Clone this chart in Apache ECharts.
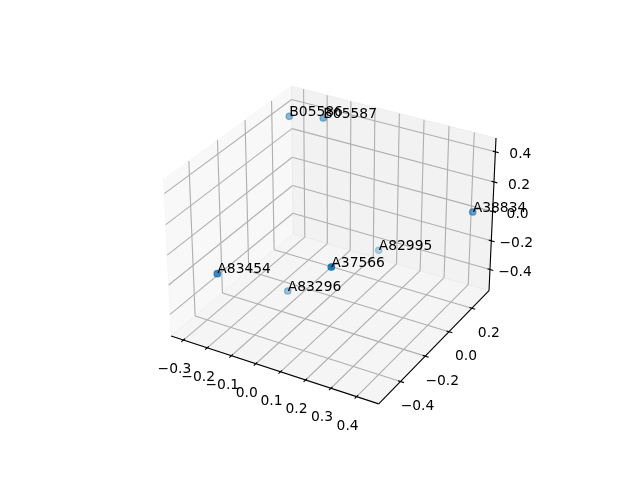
<!DOCTYPE html>
<html><head><meta charset="utf-8"><style>html,body{margin:0;background:#fff}#c{width:640px;height:480px}</style>
<script src="https://cdn.jsdelivr.net/npm/echarts@6/dist/echarts.min.js"></script></head><body><div id="c"></div>
<script>
const labels=['B05586','B05587','A38834','A82995','A37566','A83454','A83296'];
const xVals=[-0.2435,-0.1221,0.4699,0.0725,0.2386,-0.1579,-0.1279];
const yVals=[0.1387,0.1769,0.2070,0.2544,-0.4494,-0.5521,-0.0994];
const zVals=[0.4699,0.4841,0.0983,-0.3896,0.1192,-0.0415,-0.5017];
const xTicks=[-0.3,-0.2,-0.1,0,0.1,0.2,0.3,0.4], yTicks=[-0.4,-0.2,0,0.2], zTicks=[-0.4,-0.2,0,0.2,0.4];
const xLim=[-0.352,0.485], yLim=[-0.57,0.355], zLim=[-0.55,0.49];
const asp=[4,4,3].map(v=>v*1.8294640721620434*25/24/Math.hypot(4,4,3));
const el=30*Math.PI/180, az=-60*Math.PI/180, dist=10;
const R=asp.map(v=>v/2);
const ps=[Math.cos(el)*Math.cos(az),Math.cos(el)*Math.sin(az),Math.sin(el)];
const E=R.map((v,i)=>v+dist*ps[i]);
const nrm=a=>{const l=Math.hypot(...a);return a.map(v=>v/l)};
const cross=(a,b)=>[a[1]*b[2]-a[2]*b[1],a[2]*b[0]-a[0]*b[2],a[0]*b[1]-a[1]*b[0]];
const dot=(a,b)=>a[0]*b[0]+a[1]*b[1]+a[2]*b[2];
const w=nrm(ps),u=nrm(cross([0,0,1],w)),v=cross(w,u);
function toPx(a,b){return [143.2+(a+0.095)/0.185*369.6, 427.2-(b+0.095)/0.185*369.6];}
function viewOf(n){const p=n.map((t,i)=>t*asp[i]);return p.map((t,i)=>t-E[i]);}
function projN(n){const d=viewOf(n);const zv=dot(w,d);return toPx(dot(u,d)/(-zv),dot(v,d)/(-zv));}
const nx=t=>(t-xLim[0])/(xLim[1]-xLim[0]), ny=t=>(t-yLim[0])/(yLim[1]-yLim[0]), nz=t=>(t-zLim[0])/(zLim[1]-zLim[0]);
const seg=(a,b)=>({coords:[projN(a),projN(b)]});
const gridL=[];
xTicks.forEach(t=>{const x=nx(t);gridL.push(seg([x,0,0],[x,1,0]),seg([x,1,0],[x,1,1]));});
yTicks.forEach(t=>{const y=ny(t);gridL.push(seg([1,y,0],[0,y,0]),seg([0,y,0],[0,y,1]));});
zTicks.forEach(t=>{const z=nz(t);gridL.push(seg([0,0,z],[0,1,z]),seg([0,1,z],[1,1,z]));});
const axisL=[seg([0,0,0],[1,0,0]),seg([1,0,0],[1,1,0]),seg([1,1,0],[1,1,1])];
const O=0.016,I=0.012;
xTicks.forEach(t=>{const x=nx(t);axisL.push(seg([x,-O,0],[x,I,0]));});
yTicks.forEach(t=>{const y=ny(t);axisL.push(seg([1+O,y,0],[1-I,y,0]));});
zTicks.forEach(t=>{const z=nz(t);axisL.push(seg([1+O,1,z],[1-I,1,z]));});
const fmt=t=>(t<0?'\u2212':'')+Math.abs(t).toFixed(1);
const tickT=[];
xTicks.forEach(t=>{const q=projN([nx(t),0,0]);tickT.push([q[0]-9,q[1]+29.5,fmt(t)]);});
yTicks.forEach(t=>{const q=projN([1,ny(t),0]);tickT.push([q[0]+17,q[1]+25,fmt(t)]);});
zTicks.forEach(t=>{const q=projN([1,1,nz(t)]);tickT.push([q[0]+25,q[1]+3,fmt(t)]);});
const panes=[
 {c:[[0,0,0],[0,1,0],[0,1,1],[0,0,1]],f:'rgba(242,242,242,0.5)'},
 {c:[[0,1,0],[1,1,0],[1,1,1],[0,1,1]],f:'rgba(230,230,230,0.5)'},
 {c:[[0,0,0],[1,0,0],[1,1,0],[0,1,0]],f:'rgba(236,236,236,0.5)'}];
const nPts=labels.map((_,i)=>[nx(xVals[i]),ny(yVals[i]),nz(zVals[i])]);
const dists=nPts.map(n=>-dot(w,viewOf(n)));
const dMin=Math.min(...dists), dMax=Math.max(...dists);
const alpha=dists.map(d=>1-0.7*(d-dMin)/(dMax-dMin));
const order=labels.map((_,i)=>i).sort((a,b)=>dists[b]-dists[a]);
const ptData=order.map(i=>({value:projN(nPts[i]),itemStyle:{opacity:alpha[i]}}));
const ptText=labels.map((s,i)=>[...projN(nPts[i]),s]);
const textItem=(arr,align,vAlign,dy)=>(p,api)=>{const q=api.coord([api.value(0),api.value(1)]);return {type:'text',x:q[0],y:q[1]+dy,style:{text:arr[p.dataIndex][2],font:'13.89px "DejaVu Sans"',fill:'#000',textAlign:align,textVerticalAlign:vAlign}};};
const chart=echarts.init(document.getElementById('c'));
chart.setOption({animation:false,grid:{left:0,right:0,top:0,bottom:0},xAxis:{type:'value',min:0,max:640,show:false},yAxis:{type:'value',min:0,max:480,inverse:true,show:false},
series:[
 {type:'custom',coordinateSystem:'cartesian2d',data:panes.map((_,i)=>[i,0]),silent:true,z:1,renderItem:(p,api)=>{const q=panes[p.dataIndex];return {type:'polygon',shape:{points:q.c.map(n=>api.coord(projN(n)))},style:{fill:q.f,stroke:q.f,lineWidth:1}};}},
 {type:'lines',coordinateSystem:'cartesian2d',data:gridL,z:2,lineStyle:{color:'#b0b0b0',width:1.11,opacity:1}},
 {type:'lines',coordinateSystem:'cartesian2d',data:axisL,z:3,lineStyle:{color:'#000',width:1.11,opacity:1}},
 {type:'custom',coordinateSystem:'cartesian2d',data:tickT,z:4,renderItem:textItem(tickT,'center','middle',0)},
 {type:'scatter',data:ptData,z:5,symbol:'circle',symbolSize:6.4,itemStyle:{color:'#1f77b4',borderColor:'#1f77b4',borderWidth:1.3}},
 {type:'custom',coordinateSystem:'cartesian2d',data:ptText,z:6,renderItem:textItem(ptText,'left','bottom',3)}
]});
</script></body></html>
